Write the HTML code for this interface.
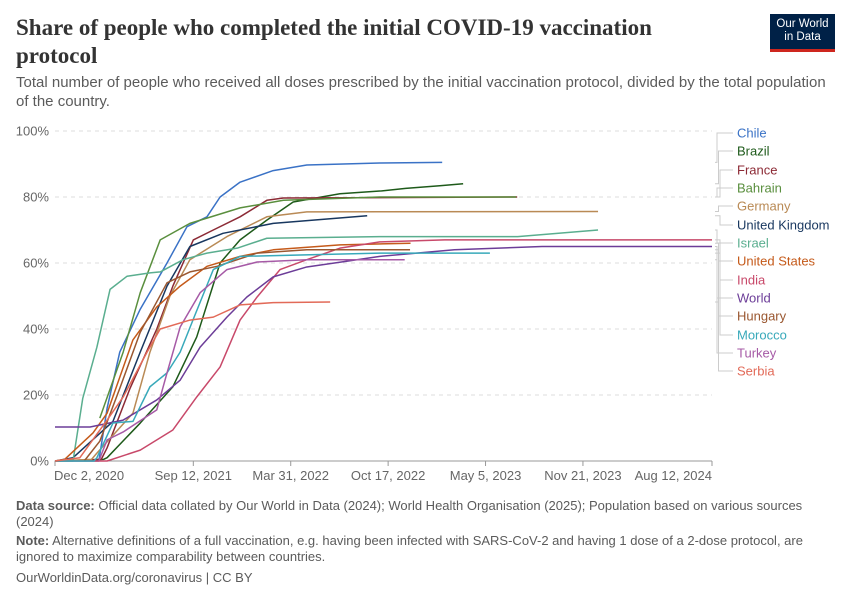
<!DOCTYPE html>
<html><head><meta charset="utf-8">
<style>
body{margin:0;background:#fff;font-family:"Liberation Sans",sans-serif;}
#wrap{position:relative;width:850px;height:600px;overflow:hidden;}
.title{position:absolute;left:16px;top:14px;width:700px;font-family:"Liberation Serif",serif;font-weight:bold;font-size:23px;line-height:28px;color:#333;}
.sub{position:absolute;left:16px;top:73px;width:815px;font-size:15px;line-height:19px;color:#5b5b5b;}
.logo{position:absolute;left:770px;top:14px;width:65px;height:38px;background:#002147;color:#fff;font-size:11.5px;line-height:13px;text-align:center;padding-top:4px;box-sizing:border-box;}
.logo:after{content:"";position:absolute;left:0;bottom:0;width:100%;height:3px;background:#ce261e;}
.foot{position:absolute;left:16px;font-size:13px;line-height:16px;color:#5b5b5b;width:800px;}
</style></head><body>
<div id="wrap">
<div class="title">Share of people who completed the initial COVID-19 vaccination protocol</div>
<div class="sub">Total number of people who received all doses prescribed by the initial vaccination protocol, divided by the total population of the country.</div>
<div class="logo">Our World<br>in Data</div>
<svg id="chart" width="850" height="600" style="position:absolute;left:0;top:0"></svg>
<div class="foot" style="top:498px"><b>Data source:</b> Official data collated by Our World in Data (2024); World Health Organisation (2025); Population based on various sources (2024)</div>
<div class="foot" style="top:533px"><b>Note:</b> Alternative definitions of a full vaccination, e.g. having been infected with SARS-CoV-2 and having 1 dose of a 2-dose protocol, are ignored to maximize comparability between countries.</div>
<div class="foot" style="top:570px">OurWorldinData.org/coronavirus | CC BY</div>
</div>
<script>
const xTickLabels=["Dec 2, 2020","Sep 12, 2021","Mar 31, 2022","Oct 17, 2022","May 5, 2023","Nov 21, 2023","Aug 12, 2024"];
const xTickDays=[0,284,484,684,884,1084,1349];
const yTicks=[0,20,40,60,80,100];
const seriesNames=["Chile","Brazil","France","Bahrain","Germany","United Kingdom","Israel","United States","India","World","Hungary","Morocco","Turkey","Serbia"];
const seriesColors=["#3a72c6","#1e5a1a","#8c2a35","#5a8f3e","#b98a55","#18375f","#5aae8f","#c55a1a","#c8496a","#6c3d98","#9a5730","#38a9ba","#a65aa6","#e26a58"];
const labelY=[133,151,170,188,206,225,243,261,280,298,316,335,353,371];
const chileData=[[0,0],[90,0],[107,16],[133,33],[175,46],[230,60],[271,71],[312,74],[339,80],[380,84.5],[448,88],[517,89.7],[667,90.3],[795,90.5]];
const brazilData=[[0,0],[100,0.5],[107,1],[175,11.5],[242,22.5],[291,37.6],[339,60],[380,67],[435,73],[489,78.5],[585,81],[667,81.8],[720,82.6],[790,83.4],[838,84]];
const franceData=[[0,0],[95,0.5],[107,4],[154,22],[209,40],[242,53],[284,67],[325,70],[380,74],[435,79],[469,79.7],[949,80]];
const bahrainData=[[92,13],[140,33],[175,51],[216,67],[277,72],[380,76.7],[469,79],[667,80],[947,80]];
const germanyData=[[0,0],[75,0.5],[86,2.4],[160,14.5],[195,33],[236,50],[277,61],[353,68],[435,74],[517,75.5],[1115,75.6]];
const ukData=[[0,0],[37,1],[119,12],[175,33],[230,53],[277,65],[345,69],[448,72],[641,74.3]];
const israelData=[[0,0],[37,0],[57,19],[86,34.5],[113,52],[148,56],[195,57],[216,57.3],[263,61],[312,63],[374,64.5],[435,67.5],[667,68],[950,68],[1115,70]];
const usData=[[0,0],[20,0.5],[78,8.5],[107,14.5],[160,36.7],[209,46.7],[257,53],[312,59],[380,62],[448,64],[585,65.5],[730,66]];
const indiaData=[[0,0],[107,0],[175,3.3],[242,9.4],[291,19.4],[339,28.5],[380,42.7],[415,49.7],[462,58],[517,61],[585,64.5],[667,66.4],[800,67],[1349,67]];
const worldData=[[0,10.3],[72,10.3],[140,12.4],[209,18.5],[257,24.5],[298,34.5],[353,43.6],[394,49.7],[448,55.8],[517,58.8],[620,61],[667,62],[820,64],[1000,65],[1349,65]];
const hungaryData=[[60,0],[92,6],[133,22],[175,39],[230,54],[277,57.3],[333,59],[415,63],[517,64],[729,64]];
const moroccoData=[[0,0],[80,0],[86,1],[119,11.5],[160,12],[195,22.5],[230,26.7],[257,33],[284,43],[325,58],[380,62],[667,63],[893,63]];
const turkeyData=[[90,0],[107,6.4],[140,8.8],[209,15.5],[230,26.7],[257,40.6],[298,51],[353,58],[415,60.3],[517,61],[718,61]];
const serbiaData=[[0,0],[51,1],[107,12.4],[140,19.4],[189,33],[216,40],[277,42.7],[325,43.6],[380,47.3],[448,48],[565,48.2]];
const allData=[chileData,brazilData,franceData,bahrainData,germanyData,ukData,israelData,usData,indiaData,worldData,hungaryData,moroccoData,turkeyData,serbiaData];

const X0=55,X1=712,Y0=461,Y1=131,DMAX=1349;
const xs=d=>X0+d/DMAX*(X1-X0);
const ys=v=>Y0-v/100*(Y0-Y1);
const svg=document.getElementById('chart');
const NS="http://www.w3.org/2000/svg";
function mk(t,a){const e=document.createElementNS(NS,t);for(const k in a)e.setAttribute(k,a[k]);svg.appendChild(e);return e;}
yTicks.forEach(v=>{
  if(v>0){const g=mk('line',{x1:X0,x2:X1,y1:ys(v),y2:ys(v),stroke:'#ddd','stroke-dasharray':'4,4'});
  
  }
  const t=mk('text',{x:X0-6,y:ys(v)+4.5,'text-anchor':'end','font-size':13,fill:'#666','font-family':'Liberation Sans, sans-serif'});
  t.textContent=v+'%';
  
  
});
const ax=mk('line',{x1:X0,x2:X1,y1:Y0,y2:Y0,stroke:'#999'});


xTickDays.forEach((d,i)=>{
  const tk=mk('line',{x1:xs(d),x2:xs(d),y1:Y0,y2:Y0+5,stroke:'#999'});
  
  
  const anchor=i==0?'start':(i==xTickDays.length-1?'end':'middle');
  const t=mk('text',{x:i==0?xs(d)-1:xs(d),y:Y0+19,'text-anchor':anchor,'font-size':13,fill:'#666','font-family':'Liberation Sans, sans-serif'});
  t.textContent=xTickLabels[i];
  
  
});
allData.forEach((data,i)=>{
  const p=mk('polyline',{points:data.map(q=>xs(q[0])+','+ys(q[1])).join(' '),fill:'none',stroke:seriesColors[i],'stroke-width':1.5,'stroke-linejoin':'round'});
  
  
  const last=data[data.length-1];
  const ey=ys(last[1]);
  const vx=717+(i%3)*1.5;
  const c=mk('path',{d:`M${X1+3},${ey} H${vx} V${labelY[i]} H733`,fill:'none',stroke:'#ccc','stroke-width':1});
  
  
  const t=mk('text',{x:737,y:labelY[i]+4.5,'font-size':13,fill:seriesColors[i],'font-family':'Liberation Sans, sans-serif'});
  t.textContent=seriesNames[i];
  
  
});
</script>
</body></html>
